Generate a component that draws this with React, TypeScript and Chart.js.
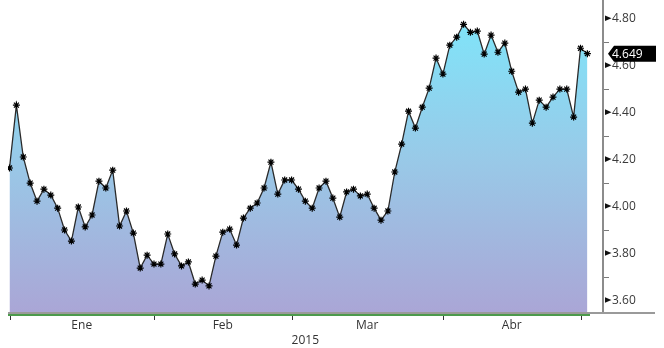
import React, { useEffect, useRef } from 'react';
import { Chart, registerables } from 'chart.js';

Chart.register(...registerables);

const values: number[] = [
  4.162, 4.43, 4.209, 4.098, 4.021, 4.072, 4.047, 3.991, 3.898, 3.851,
  3.996, 3.911, 3.962, 4.106, 4.077, 4.153, 3.915, 3.979, 3.885, 3.736,
  3.791, 3.753, 3.753, 3.881, 3.796, 3.745, 3.762, 3.668, 3.685, 3.66,
  3.787, 3.889, 3.902, 3.834, 3.949, 3.991, 4.013, 4.077, 4.187, 4.051,
  4.111, 4.111, 4.072, 4.021, 3.991, 4.077, 4.106, 4.034, 3.953, 4.06,
  4.072, 4.043, 4.051, 3.991, 3.94, 3.979, 4.145, 4.264, 4.404, 4.332,
  4.421, 4.502, 4.63, 4.562, 4.685, 4.719, 4.774, 4.74, 4.745, 4.647,
  4.728, 4.655, 4.694, 4.574, 4.485, 4.498, 4.353, 4.451, 4.421, 4.464,
  4.498, 4.498, 4.379, 4.672, 4.649,
];
const monthStarts: number[] = [0, 21, 41, 63, 83];
const monthLabels: string[] = ['Ene', 'Feb', 'Mar', 'Abr'];
const yearLabel = '2015';
const yearIndex = 43;
const lastLabel = '4.649';
const lastValue = 4.649;
const majorTicks: number[] = [3.6, 3.8, 4.0, 4.2, 4.4, 4.6, 4.8];
const majorLabels: string[] = ['3.60', '3.80', '4.00', '4.20', '4.40', '4.60', '4.80'];
const minorTicks: number[] = [3.7, 3.9, 4.1, 4.3, 4.5, 4.7];

const FONT = "'Open Sans', 'Liberation Sans', sans-serif";
const SHIFT = 5;

export default function App() {
  const ref = useRef<HTMLCanvasElement | null>(null);

  useEffect(() => {
    const canvas = ref.current;
    if (!canvas) return;

    const decor = {
      id: 'decor',
      afterDraw(chart: any) {
        const ctx = chart.ctx;
        const xs = chart.scales.x;
        const ys = chart.scales.y;
        const ca = chart.chartArea;
        ctx.save();
        // minor y ticks
        ctx.strokeStyle = '#7a7a7a';
        ctx.lineWidth = 1;
        minorTicks.forEach((v) => {
          const y = Math.round(ys.getPixelForValue(v)) + 0.5;
          ctx.beginPath();
          ctx.moveTo(ca.right + 1, y);
          ctx.lineTo(ca.right + 6, y);
          ctx.stroke();
        });
        // major tick triangles + labels
        ctx.font = `12px ${FONT}`;
        ctx.textBaseline = 'middle';
        ctx.textAlign = 'left';
        majorTicks.forEach((v, i) => {
          const y = ys.getPixelForValue(v);
          ctx.fillStyle = '#111';
          ctx.beginPath();
          ctx.moveTo(ca.right + 2, y - 2.8);
          ctx.lineTo(ca.right + 2, y + 2.8);
          ctx.lineTo(ca.right + 8.5, y);
          ctx.closePath();
          ctx.fill();
          ctx.fillStyle = '#3a3a3a';
          ctx.fillText(majorLabels[i], ca.right + 9, y + 0.5);
        });
        // bottom lines
        ctx.fillStyle = '#4c9a4c';
        ctx.fillRect(ca.left, ca.bottom + 2, 582, 2);
        ctx.fillStyle = '#9a9a9a';
        ctx.fillRect(ca.left, ca.bottom, 647, 2);
        // month ticks
        ctx.strokeStyle = '#333';
        monthStarts.forEach((m) => {
          const x = Math.round(xs.getPixelForValue(m)) + 0.5;
          ctx.beginPath();
          ctx.moveTo(x, ca.bottom + 4);
          ctx.lineTo(x, ca.bottom + 8);
          ctx.stroke();
        });
        // month labels
        ctx.fillStyle = '#333';
        ctx.textAlign = 'center';
        monthLabels.forEach((lab, i) => {
          const x = xs.getPixelForValue((monthStarts[i] + monthStarts[i + 1]) / 2);
          ctx.fillText(lab, x, ca.bottom + 14);
        });
        ctx.fillText(yearLabel, xs.getPixelForValue(yearIndex), ca.bottom + 29);
        // last value label
        const yl = ys.getPixelForValue(lastValue);
        ctx.fillStyle = '#000';
        ctx.beginPath();
        ctx.moveTo(ca.right + 5, yl);
        ctx.lineTo(ca.right + 11, yl - 8);
        ctx.lineTo(ca.right + 53, yl - 8);
        ctx.lineTo(ca.right + 53, yl + 8);
        ctx.lineTo(ca.right + 11, yl + 8);
        ctx.closePath();
        ctx.fill();
        ctx.fillStyle = '#fff';
        ctx.textAlign = 'left';
        ctx.fillText(lastLabel, ca.right + 9, yl + 0.5);
        ctx.restore();
      },
    };

    const chart = new Chart(canvas, {
      type: 'line',
      data: {
        datasets: [
          {
            data: values.map((v, i) => ({ x: i, y: v })),
            borderColor: '#2a2a2a',
            borderWidth: 1.3,
            tension: 0,
            fill: 'start',
            backgroundColor: (c: any) => {
              const { chart: ch } = c;
              const area = ch.chartArea;
              if (!area) return 'rgba(150,200,230,1)';
              const g = ch.ctx.createLinearGradient(0, area.top, 0, area.bottom);
              g.addColorStop(0, 'rgb(124,232,252)');
              g.addColorStop(0.5, 'rgb(152,202,232)');
              g.addColorStop(1, 'rgb(170,166,214)');
              return g;
            },
            pointStyle: 'star',
            pointRadius: 3.5,
            pointBorderColor: '#000',
            pointBackgroundColor: '#000',
            pointBorderWidth: 1.2,
          },
        ],
      },
      options: {
        responsive: false,
        animation: false,
        events: [],
        layout: { padding: { left: 8, top: 0, bottom: 36, right: 0 } },
        plugins: { legend: { display: false }, tooltip: { enabled: false } },
        scales: {
          x: { type: 'linear', display: false, min: -0.22, max: 86.27 },
          y: {
            position: 'right',
            min: 3.5489,
            max: 4.8766,
            grid: { display: false, drawTicks: false },
            border: { display: true, color: '#8c8c8c', width: 2 },
            ticks: { display: false },
            afterFit: (s: any) => {
              s.width = 61;
            },
          },
        },
      },
      plugins: [decor],
    } as any);

    return () => chart.destroy();
  }, []);

  return (
    <div style={{ position: 'fixed', left: 0, top: 0, width: 664, height: 348, background: '#fff', overflow: 'hidden' }}>
      <canvas
        ref={ref}
        width={664}
        height={348 + SHIFT}
        style={{ display: 'block', position: 'absolute', left: 0, top: -SHIFT }}
      />
    </div>
  );
}
